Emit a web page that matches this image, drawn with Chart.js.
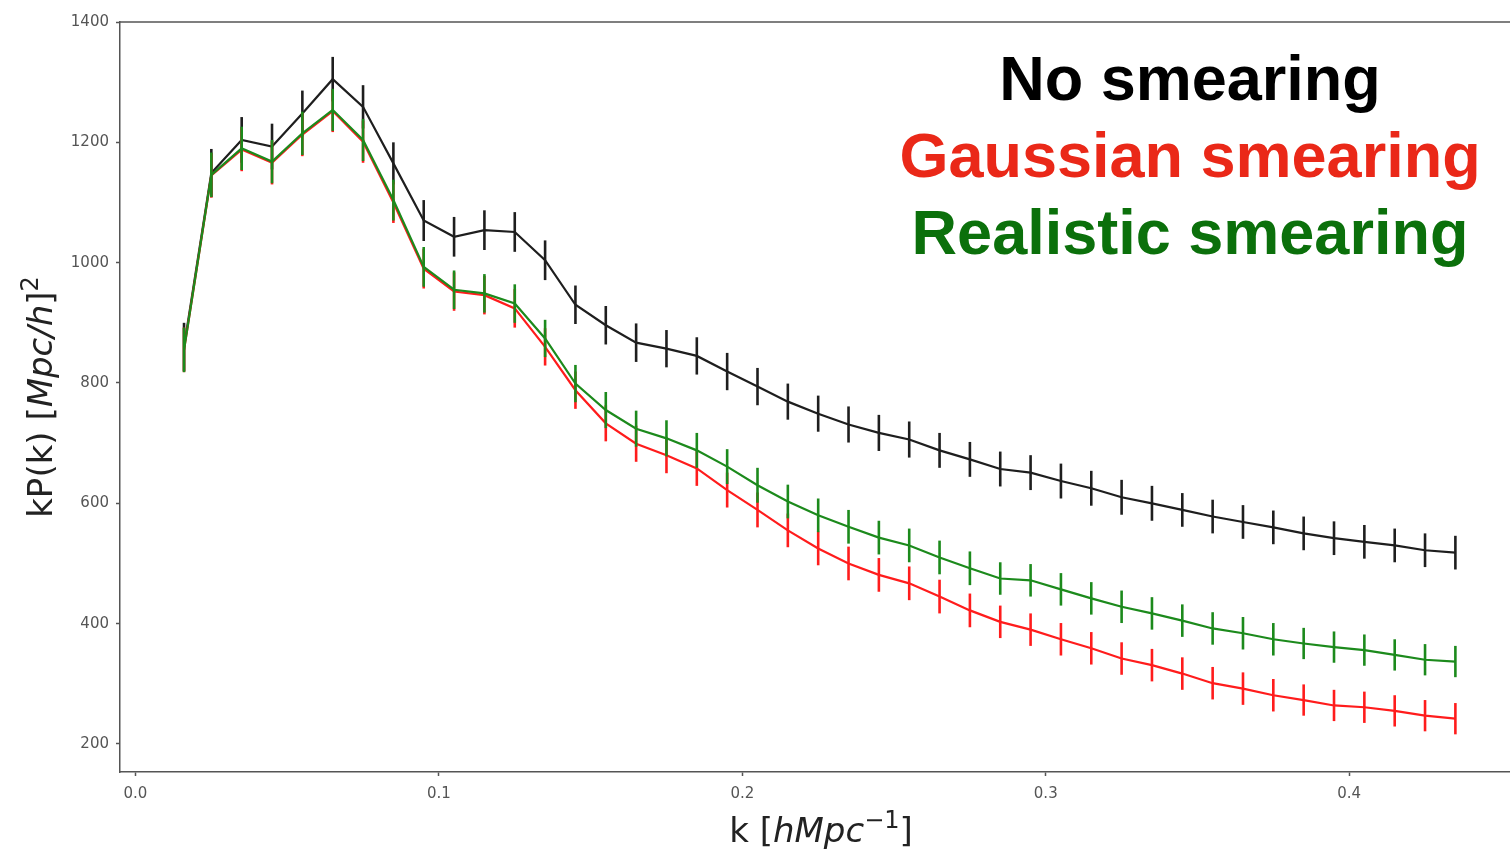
<!DOCTYPE html>
<html>
<head>
<meta charset="utf-8">
<script src="https://cdn.jsdelivr.net/npm/chart.js@4.4.1/dist/chart.umd.min.js"></script>
<style>
  html, body { margin: 0; padding: 0; background: #fff; }
  #wrap { width: 1510px; height: 851px; }
</style>
</head>
<body>
<div id="wrap"><canvas id="chart" width="1510" height="851"></canvas></div>
<script>
// k bins (h/Mpc)
const kValues = [0.016, 0.025, 0.035, 0.045, 0.055, 0.065, 0.075, 0.085, 0.095, 0.105,
  0.115, 0.125, 0.135, 0.145, 0.155, 0.165, 0.175, 0.185, 0.195, 0.205,
  0.215, 0.225, 0.235, 0.245, 0.255, 0.265, 0.275, 0.285, 0.295, 0.305,
  0.315, 0.325, 0.335, 0.345, 0.355, 0.365, 0.375, 0.385, 0.395, 0.405,
  0.415, 0.425, 0.435];

const noSmearing = [860, 1149, 1204, 1193, 1248, 1305, 1259, 1165, 1070, 1043,
  1054, 1051, 1004, 930, 896, 867, 857, 845, 819, 794,
  769, 749, 731, 717, 706, 688, 673, 657, 651, 637,
  625, 610, 600, 589, 578, 569, 560, 550, 542, 536,
  530, 522, 518];
const noSmearingErr = [40, 40, 38, 38, 38, 37, 36, 35, 34, 33,
  33, 33, 33, 32, 32, 32, 31, 31, 31, 31,
  30, 30, 30, 30, 30, 29, 29, 29, 29, 29,
  29, 29, 29, 28, 28, 28, 28, 28, 28, 28,
  28, 28, 28];

const gaussian = [855, 1145, 1188, 1166, 1213, 1252, 1201, 1100, 990, 952,
  946, 924, 860, 788, 733, 699, 680, 658, 622, 589,
  555, 525, 500, 481, 467, 445, 422, 403, 390, 374,
  359, 342, 331, 317, 301, 292, 281, 273, 264, 261,
  255, 247, 242];
const gaussianErr = [37, 37, 36, 36, 36, 35, 35, 34, 33, 32,
  32, 32, 31, 31, 30, 30, 30, 29, 29, 29,
  28, 28, 28, 28, 28, 28, 28, 27, 27, 27,
  27, 27, 27, 27, 27, 27, 27, 26, 26, 26,
  26, 26, 26];

const realistic = [855, 1146, 1190, 1168, 1215, 1254, 1204, 1104, 993, 955,
  949, 932, 874, 799, 755, 724, 708, 688, 661, 630,
  603, 580, 561, 543, 530, 510, 492, 475, 472, 457,
  442, 428, 417, 405, 392, 384, 374, 367, 361, 356,
  348, 340, 337];
const realisticErr = [37, 37, 36, 36, 36, 35, 35, 34, 33, 32,
  32, 32, 31, 31, 30, 30, 30, 29, 29, 29,
  28, 28, 28, 28, 28, 28, 28, 27, 27, 27,
  27, 27, 27, 27, 27, 27, 27, 26, 26, 26,
  26, 26, 26];

const xTicks = [0.0, 0.1, 0.2, 0.3, 0.4];
const yTicks = [200, 400, 600, 800, 1000, 1200, 1400];
const seriesLabels = ["No smearing", "Gaussian smearing", "Realistic smearing"];

const toPoints = (ys) => ys.map((y, i) => ({ x: kValues[i], y: y }));

// vertical error bars, drawn right after each dataset so layering follows the lines
const errorBars = {
  id: "errorBars",
  afterDatasetDraw(chart, args) {
    const ds = chart.data.datasets[args.index];
    if (!ds.errors) return;
    const { ctx, scales } = chart;
    ctx.save();
    ctx.strokeStyle = ds.borderColor;
    ctx.lineWidth = 2.6;
    ds.data.forEach((p, i) => {
      const x = scales.x.getPixelForValue(p.x);
      const y1 = scales.y.getPixelForValue(p.y - ds.errors[i]);
      const y2 = scales.y.getPixelForValue(p.y + ds.errors[i]);
      ctx.beginPath();
      ctx.moveTo(x, y1);
      ctx.lineTo(x, y2);
      ctx.stroke();
    });
    ctx.restore();
  }
};

function drawRich(ctx, parts, x, y, size) {
  let total = 0;
  const fontFor = (p) => (p.italic ? "italic " : "") + Math.round(p.sup ? size * 0.7 : size) + "px 'DejaVu Sans'";
  parts.forEach(p => { ctx.font = fontFor(p); total += ctx.measureText(p.text).width; });
  let cx = x - total / 2;
  parts.forEach(p => {
    ctx.font = fontFor(p);
    ctx.fillText(p.text, cx, p.sup ? y - size * 0.42 : y);
    cx += ctx.measureText(p.text).width;
  });
}

const decorations = {
  id: "decorations",
  afterDraw(chart) {
    const { ctx, chartArea } = chart;
    ctx.save();
    // top spine
    ctx.strokeStyle = "#555";
    ctx.lineWidth = 1.5;
    ctx.beginPath();
    ctx.moveTo(chartArea.left, chartArea.top);
    ctx.lineTo(chartArea.right, chartArea.top);
    ctx.stroke();

    // axis titles
    ctx.fillStyle = "#222";
    ctx.textAlign = "left";
    ctx.textBaseline = "alphabetic";
    drawRich(ctx, [
      { text: "k [" },
      { text: "hMpc", italic: true },
      { text: "\u22121", sup: true },
      { text: "]" }
    ], 821, 842, 34);

    ctx.save();
    ctx.translate(52, 397);
    ctx.rotate(-Math.PI / 2);
    drawRich(ctx, [
      { text: "kP(k) [" },
      { text: "Mpc/h", italic: true },
      { text: "]" },
      { text: "2", sup: true }
    ], 0, 0, 34);
    ctx.restore();

    // legend text
    const colors = ["#000000", "#ea2818", "#0b700b"];
    ctx.font = "bold 63px 'Liberation Sans', Arial, sans-serif";
    ctx.textAlign = "center";
    seriesLabels.forEach((t, i) => {
      ctx.fillStyle = colors[i];
      ctx.fillText(t, 1190, 100 + i * 77);
    });
    ctx.restore();
  }
};

const tickFont = { family: "'DejaVu Sans'", size: 15 };

new Chart(document.getElementById("chart"), {
  type: "line",
  data: {
    datasets: [
      { label: seriesLabels[2], data: toPoints(realistic), errors: realisticErr, borderColor: "#1c8a1c" },
      { label: seriesLabels[1], data: toPoints(gaussian), errors: gaussianErr, borderColor: "#ff1c1c" },
      { label: seriesLabels[0], data: toPoints(noSmearing), errors: noSmearingErr, borderColor: "#1e1e1e" }
    ].map(d => Object.assign(d, { borderWidth: 2.2, pointRadius: 0, tension: 0, fill: false }))
  },
  options: {
    responsive: false,
    animation: false,
    devicePixelRatio: 1,
    layout: { padding: { top: 22, right: 0, left: 0, bottom: 0 } },
    plugins: { legend: { display: false }, tooltip: { enabled: false } },
    scales: {
      x: {
        type: "linear",
        min: -0.0051,
        max: 0.453,
        afterBuildTicks: (axis) => { axis.ticks = xTicks.map(v => ({ value: v })); },
        afterFit: (axis) => { axis.height = 79; },
        ticks: { color: "#555", font: tickFont, padding: 9, maxRotation: 0, callback: v => v.toFixed(1) },
        grid: { drawOnChartArea: false, tickLength: 4, tickColor: "#555", tickWidth: 1.5 },
        border: { color: "#555", width: 1.5 }
      },
      y: {
        type: "linear",
        min: 153.4,
        max: 1400,
        afterBuildTicks: (axis) => { axis.ticks = yTicks.map(v => ({ value: v })); },
        afterFit: (axis) => { axis.width = 120; },
        ticks: { color: "#555", font: tickFont, padding: 7, callback: v => String(v) },
        grid: { drawOnChartArea: false, tickLength: 4, tickColor: "#555", tickWidth: 1.5 },
        border: { color: "#555", width: 1.5 }
      }
    }
  },
  plugins: [errorBars, decorations]
});
</script>
</body>
</html>
